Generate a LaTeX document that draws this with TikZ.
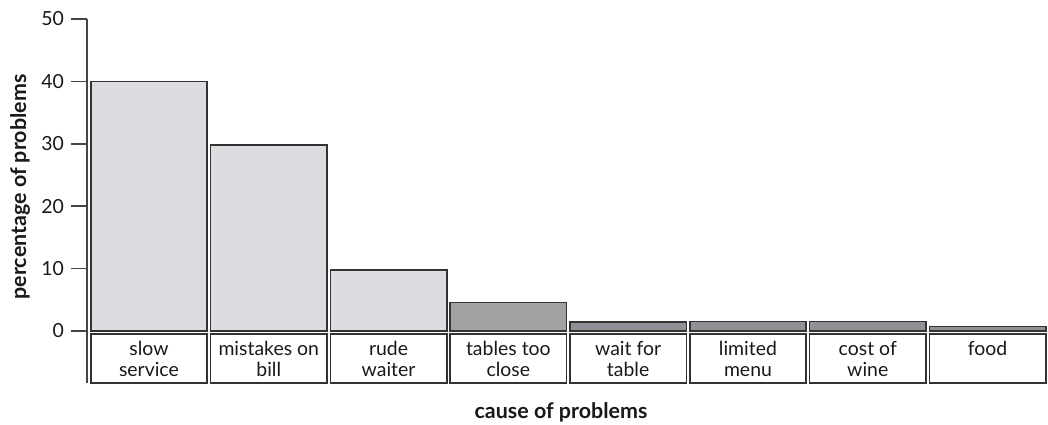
\documentclass[tikz,border=0pt]{standalone}
\usepackage{fontspec}
\setmainfont{Lato}
\definecolor{barlight}{HTML}{DCDDE0}
\definecolor{barmid}{HTML}{A2A2A2}
\definecolor{bardark}{HTML}{8F9196}
\definecolor{edge}{HTML}{333333}
\definecolor{axis}{HTML}{444444}
\begin{document}
\begin{tikzpicture}[x=1bp,y=-1bp,
  bar/.style={draw=edge,line width=1.6bp},
  catbox/.style={draw=edge,line width=1.6bp,fill=white},
  cattext/.style={align=center,anchor=north,inner sep=0pt,font=\fontsize{19.5}{21}\selectfont,text=black!90},
  ticklab/.style={anchor=east,inner sep=0pt,font=\fontsize{19.5}{20}\selectfont,text=black!90},
  axtitle/.style={inner sep=0pt,font=\bfseries\fontsize{21.5}{22}\selectfont,text=black!90}]
\useasboundingbox (0,0) rectangle (1048,424);
% axis
\draw[axis,line width=1.5bp] (87,19) coordinate (atop) -- (87,383) coordinate (abot);
\foreach \v/\y in {0/331,10/268.6,20/206.2,30/143.8,40/81.4,50/19}{
  \draw[axis,line width=1.5bp] (71,\y) -- (87,\y);
  \node[ticklab] (t\v) at (64,\y) {\v};
}
% bars
\foreach \i/\v/\c in {0/40/barlight,1/29.8/barlight,2/9.8/barlight,3/4.6/barmid,4/1.4/bardark,5/1.55/bardark,6/1.55/bardark,7/0.75/bardark}{
  \pgfmathsetmacro\xl{90.7+119.8*\i}
  \pgfmathsetmacro\xr{\xl+116.5}
  \pgfmathsetmacro\yt{331-6.24*\v}
  \draw[bar,fill=\c] (\xl,331) rectangle (\xr,\yt);
  \draw[catbox] (\xl,334) rectangle (\xr,383);
}
\foreach \i/\t in {0/{slow\\service},1/{mistakes on\\bill},2/{rude\\waiter},3/{tables too\\close},4/{wait for\\table},5/{limited\\menu},6/{cost of\\wine},7/{food}}{
  \pgfmathsetmacro\xc{90.7+119.8*\i+58.25}
  \node[cattext] (c\i) at (\xc,341) {\t};
}
\node[axtitle,rotate=90] (ytitle) at (20,187) {percentage of problems};
\node[axtitle] (xtitle) at (561,412) {cause of problems};
\end{tikzpicture}
\end{document}
